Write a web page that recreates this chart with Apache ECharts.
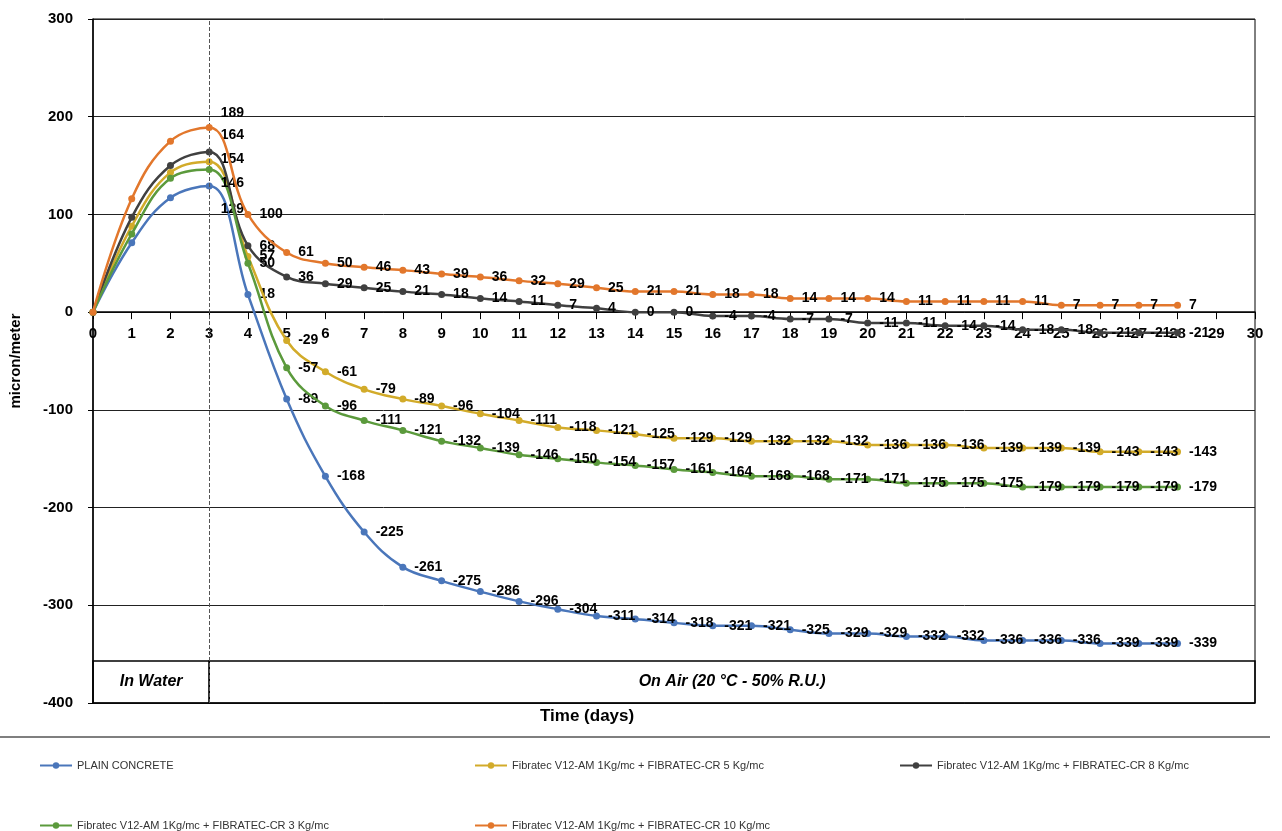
<!DOCTYPE html>
<html>
<head>
<meta charset="utf-8">
<title>Shrinkage</title>
<script src="https://cdn.jsdelivr.net/npm/echarts@6.0.0/dist/echarts.min.js"></script>
<style>
  html, body { margin: 0; padding: 0; background: #fff; }
  #chart { width: 1282px; height: 831px; }
</style>
</head>
<body>
<div id="chart"></div>
<script>
// giorni di misura
const days = [0, 1, 2, 3, 4, 5, 6, 7, 8, 9, 10, 11, 12, 13, 14, 15, 16, 17, 18, 19, 20, 21, 22, 23, 24, 25, 26, 27, 28]

// micron/meter per ogni miscela
const plainConcrete = [0, 71, 117, 129, 18, -89, -168, -225, -261, -275, -286, -296, -304, -311, -314, -318, -321, -321, -325, -329, -329, -332, -332, -336, -336, -336, -339, -339, -339]
const cr5 = [0, 88, 143, 154, 57, -29, -61, -79, -89, -96, -104, -111, -118, -121, -125, -129, -129, -132, -132, -132, -136, -136, -136, -139, -139, -139, -143, -143, -143]
const cr8 = [0, 97, 150, 164, 68, 36, 29, 25, 21, 18, 14, 11, 7, 4, 0, 0, -4, -4, -7, -7, -11, -11, -14, -14, -18, -18, -21, -21, -21]
const cr3 = [0, 80, 137, 146, 50, -57, -96, -111, -121, -132, -139, -146, -150, -154, -157, -161, -164, -168, -168, -171, -171, -175, -175, -175, -179, -179, -179, -179, -179]
const cr10 = [0, 116, 175, 189, 100, 61, 50, 46, 43, 39, 36, 32, 29, 25, 21, 21, 18, 18, 14, 14, 14, 11, 11, 11, 11, 7, 7, 7, 7]

const seriesNames = [
  'PLAIN CONCRETE',
  'Fibratec V12-AM 1Kg/mc + FIBRATEC-CR 5 Kg/mc',
  'Fibratec V12-AM 1Kg/mc + FIBRATEC-CR 8 Kg/mc',
  'Fibratec V12-AM 1Kg/mc + FIBRATEC-CR 3 Kg/mc',
  'Fibratec V12-AM 1Kg/mc + FIBRATEC-CR 10 Kg/mc'
]
const yTicks = [-400, -300, -200, -100, 0, 100, 200, 300]

const FONT = '"Liberation Sans", Arial, sans-serif'

// colore + spostamento etichetta del picco (giorno 3)
const seriesCfg = [
  { values: plainConcrete, color: '#4a76ba', peakDy: 23 },
  { values: cr5, color: '#d2ab2a', peakDy: -3 },
  { values: cr8, color: '#404040', peakDy: -17 },
  { values: cr3, color: '#5b9a3c', peakDy: 14 },
  { values: cr10, color: '#e2772c', peakDy: -14 }
]

const series = seriesCfg.map((cfg, i) => {
  const data = days.map((d, k) => {
    const item = { value: [d, cfg.values[k]] }
    if (d < 3) {
      item.label = { show: false }
    } else if (d === 3) {
      item.label = { offset: [0, cfg.peakDy] }
    }
    return item
  })
  return {
    name: seriesNames[i],
    type: 'line',
    smooth: 0.4,
    data: data,
    symbol: 'circle',
    symbolSize: 7,
    lineStyle: { width: 2.5, color: cfg.color },
    itemStyle: { color: cfg.color },
    label: {
      show: true,
      position: 'right',
      distance: 8,
      formatter: (p) => String(p.value[1]),
      fontFamily: FONT,
      fontWeight: 'bold',
      fontSize: 14,
      color: '#000'
    },
    z: 2 + i
  }
})

// linea tratteggiata al giorno 3 + riquadri in basso
series[0].markLine = {
  silent: true,
  symbol: 'none',
  label: { show: false },
  lineStyle: { type: 'dashed', color: '#555', width: 1 },
  data: [{ xAxis: 3 }]
}
series[0].markArea = {
  silent: true,
  itemStyle: { color: 'rgba(0,0,0,0)', borderColor: '#000', borderWidth: 1.5 },
  label: {
    position: 'inside',
    color: '#000',
    fontFamily: FONT,
    fontWeight: 'bold',
    fontStyle: 'italic',
    fontSize: 16
  },
  data: [
    [{ name: 'In Water', coord: [0, -357] }, { coord: [3, -400] }],
    [{ name: 'On Air (20 °C - 50% R.U.)', coord: [3, -357] }, { coord: [30, -400] }]
  ]
}

const legendPos = [
  { left: 34, top: 755 },
  { left: 469, top: 755 },
  { left: 894, top: 755 },
  { left: 34, top: 815 },
  { left: 469, top: 815 }
]
const legends = seriesNames.map((name, i) => ({
  left: legendPos[i].left,
  top: legendPos[i].top,
  data: [name],
  itemWidth: 32,
  itemHeight: 8,
  selectedMode: false,
  textStyle: { fontFamily: FONT, fontSize: 11, color: '#333' }
}))

const option = {
  animation: false,
  textStyle: { fontFamily: FONT },
  grid: {
    left: 88,
    right: 27,
    top: 19,
    bottom: 128,
    show: true,
    borderColor: '#000',
    borderWidth: 1
  },
  legend: legends,
  xAxis: {
    type: 'value',
    min: 0,
    max: 30,
    interval: 1,
    offset: 0,
    axisLine: { onZero: false, lineStyle: { color: '#000', width: 1.5 } },
    axisTick: { show: true, length: 7, lineStyle: { color: '#000' } },
    axisLabel: { color: '#000', fontWeight: 'bold', fontSize: 15, margin: 14 },
    splitLine: { show: false }
  },
  yAxis: {
    type: 'value',
    min: yTicks[0],
    max: yTicks[yTicks.length - 1],
    interval: 100,
    name: 'micron/meter',
    nameLocation: 'middle',
    nameGap: 70,
    nameTextStyle: { color: '#000', fontWeight: 'bold', fontSize: 15 },
    axisLine: { show: true, lineStyle: { color: '#000', width: 1.5 } },
    axisTick: { show: true, length: 5, lineStyle: { color: '#000' } },
    axisLabel: { color: '#000', fontWeight: 'bold', fontSize: 15, margin: 20 },
    splitLine: { show: true, lineStyle: { color: '#222', width: 1 } }
  },
  graphic: [
    {
      type: 'text',
      left: 540,
      top: 708,
      style: { text: 'Time (days)', font: 'bold 17px ' + FONT, fill: '#000' }
    },
    {
      type: 'line',
      shape: { x1: 0, y1: 737, x2: 1270, y2: 737 },
      style: { stroke: '#555', lineWidth: 1.5 }
    }
  ],
  series: series
}

const chart = echarts.init(document.getElementById('chart'))
chart.setOption(option)

// asse X (etichette comprese) spostato sulla linea dello zero
const placeXAxis = () => {
  const yZero = chart.convertToPixel({ yAxisIndex: 0 }, 0)
  const yBottom = chart.convertToPixel({ yAxisIndex: 0 }, yTicks[0])
  chart.setOption({ xAxis: { offset: -(yBottom - yZero) } })
}
placeXAxis()
window.addEventListener('resize', () => {
  chart.resize()
  placeXAxis()
})
</script>
</body>
</html>
